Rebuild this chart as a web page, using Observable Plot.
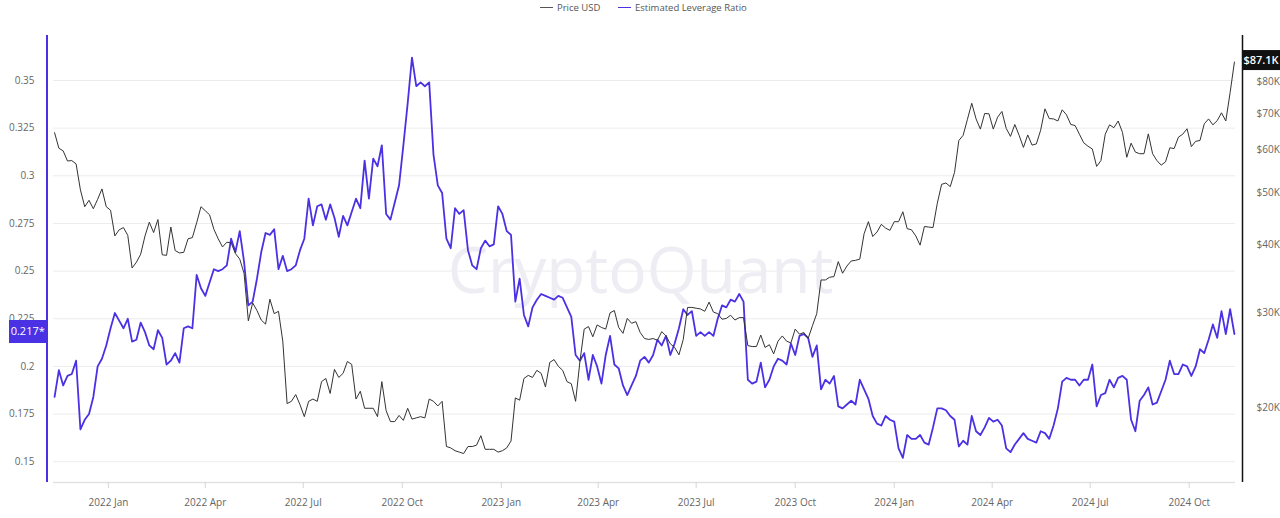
<!DOCTYPE html>
<html><head><meta charset="utf-8">
<script src="https://cdn.jsdelivr.net/npm/d3@7"></script>
<script src="https://cdn.jsdelivr.net/npm/@observablehq/plot@0.6"></script>
<style>
html,body{margin:0;padding:0;background:#fff;width:1280px;height:518px;overflow:hidden;font-family:"Open Sans",sans-serif}
#legend{position:relative;height:20px}
.item{position:absolute;top:0;height:15px;display:flex;align-items:center;font-size:9.5px;color:#555;white-space:nowrap}
.sw{display:inline-block;width:13px;height:1.6px;margin-right:4px}
</style></head><body>
<div id="legend"></div>
<div id="chart"></div>
<script>
// ---- data ----
const seriesNames = ["Price USD", "Estimated Leverage Ratio"];
const seriesColors = ["#333333", "#4a31e4"];
const sampleStart = "2021-11-12";   // one sample every 4 days
const sampleStepDays = 4;
const priceUSD = [
64500,60400,59700,57200,57300,56500,50600,47100,48400,46700,48600,50800,47100,
46400,41600,42700,43100,41700,36300,37200,38500,41600,44100,42200,44600,38400,38300,43200,39100,38700,
38800,41100,41300,44000,47100,46300,45500,42800,41100,39700,40500,40400,38600,37700,35500,29000,
31300,30300,29100,28600,31800,29900,30200,26600,20400,20600,21200,20300,19300,20600,20800,20600,
22400,22700,21300,23600,22800,23200,24400,24100,20800,21500,20000,20000,20000,19300,22400,19800,
18900,18900,19400,19000,20000,19100,19200,19300,19200,20800,20600,20200,20600,17000,16900,16700,
16600,16500,17000,17000,17100,17800,16800,16800,16800,16600,16700,16900,17400,20900,20700,22700,
23000,22800,23500,23200,21900,24300,24600,23900,23500,22400,22200,20600,24400,28000,28300,27100,
28500,28200,28000,30000,30300,28200,27500,29300,28700,28900,27600,26900,26800,26900,26700,27700,
27200,26300,25900,25100,26800,30700,30700,30600,30500,30200,31400,30100,29900,29200,29300,29700,
29100,29400,29400,26100,26000,26000,27300,25900,26200,25200,26600,27200,26600,26400,28000,27400,
27600,26900,28400,29900,34500,34500,34900,35000,37300,35500,36600,37400,37500,37700,42000,44200,
41500,42300,43700,43000,42600,44200,44200,46100,42900,42700,41600,40000,43300,43200,43100,47800,
51800,52100,51300,54500,62400,63800,68300,73100,68400,65500,70000,69900,65500,68900,70600,65700,
63500,66800,63800,60600,63900,61200,61500,65200,71400,68500,68400,67800,71100,69600,66800,66500,
64100,61800,60900,60200,55900,57300,64100,66700,65900,67800,64600,58100,61700,59400,59000,59000,
64200,59000,57300,56200,57000,60500,60300,63300,64100,65600,60800,62200,62400,67000,68400,66700,
67900,70200,67800,76500,87100];
const leverageRatio = [
0.184,0.198,0.190,0.195,0.196,0.203,0.167,0.172,0.175,0.184,
0.200,0.204,0.211,0.220,0.228,0.224,0.220,0.225,0.213,0.214,
0.223,0.218,0.211,0.209,0.219,0.215,0.201,0.203,0.207,0.202,
0.220,0.221,0.220,0.248,0.241,0.237,0.244,0.251,0.250,0.251,
0.253,0.267,0.260,0.271,0.255,0.232,0.234,0.246,0.260,0.270,
0.269,0.272,0.251,0.258,0.250,0.251,0.253,0.261,0.267,0.288,
0.274,0.284,0.285,0.277,0.285,0.278,0.268,0.279,0.274,0.281,
0.288,0.283,0.308,0.288,0.309,0.305,0.316,0.280,0.277,0.286,
0.295,0.316,0.338,0.362,0.347,0.349,0.347,0.349,0.311,0.295,
0.291,0.267,0.262,0.283,0.280,0.282,0.261,0.253,0.251,0.262,
0.266,0.263,0.264,0.284,0.280,0.271,0.269,0.234,0.246,0.227,
0.221,0.231,0.235,0.238,0.237,0.236,0.235,0.237,0.236,0.231,
0.226,0.206,0.203,0.207,0.193,0.206,0.200,0.191,0.206,0.216,
0.201,0.199,0.190,0.185,0.190,0.195,0.203,0.205,0.202,0.206,
0.214,0.211,0.216,0.206,0.212,0.220,0.230,0.227,0.229,0.216,
0.218,0.216,0.218,0.216,0.225,0.232,0.231,0.235,0.234,0.238,
0.234,0.193,0.191,0.192,0.202,0.189,0.193,0.200,0.204,0.203,
0.201,0.212,0.206,0.216,0.217,0.215,0.205,0.211,0.188,0.193,
0.191,0.195,0.179,0.178,0.180,0.182,0.180,0.193,0.188,0.183,
0.174,0.170,0.169,0.174,0.172,0.171,0.157,0.152,0.164,0.162,
0.162,0.164,0.160,0.159,0.168,0.178,0.178,0.177,0.174,0.172,
0.158,0.161,0.159,0.174,0.166,0.164,0.168,0.173,0.171,0.172,
0.169,0.157,0.155,0.159,0.162,0.165,0.162,0.161,0.160,0.166,
0.165,0.162,0.169,0.178,0.192,0.194,0.193,0.193,0.190,0.193,
0.193,0.201,0.179,0.185,0.186,0.193,0.189,0.194,0.195,0.193,
0.172,0.166,0.182,0.185,0.189,0.180,0.181,0.187,0.193,0.203,
0.196,0.196,0.201,0.200,0.195,0.200,0.209,0.207,0.214,0.222,
0.215,0.229,0.217,0.230,0.217];
const leverageTicks = [0.15,0.175,0.2,0.225,0.25,0.275,0.3,0.325,0.35];
const priceTicks = [20000,30000,40000,50000,60000,70000,80000];
const xTickDates = ["2022-01-01","2022-04-01","2022-07-01","2022-10-01","2023-01-01","2023-04-01",
  "2023-07-01","2023-10-01","2024-01-01","2024-04-01","2024-07-01","2024-10-01"];
const xDomain = ["2021-11-11","2024-11-13"];
const leverageDomain = [0.1391, 0.3736];
const priceDomain = [14590, 97500];   // log-scaled right axis
const watermark = "CryptoQuant";

// ---- legend ----
const legendLeft = [540, 618];
const swatchColors = ["#555555", seriesColors[1]];
const legend = d3.select("#legend");
seriesNames.forEach((n, i) => {
  const it = legend.append("div").attr("class", "item").style("left", legendLeft[i] + "px");
  it.append("span").attr("class", "sw").style("background", swatchColors[i]);
  it.append("span").text(n);
});

// ---- build table ----
const start = new Date(sampleStart);
const data = leverageRatio.map((v, i) => ({
  date: d3.utcDay.offset(start, i * sampleStepDays),
  lev: v,
  price: priceUSD[i]
}));
const lp0 = Math.log(priceDomain[0]), lp1 = Math.log(priceDomain[1]);
const v0 = leverageDomain[0], v1 = leverageDomain[1];
const p2v = p => v0 + (Math.log(p) - lp0) / (lp1 - lp0) * (v1 - v0);
const v2p = v => Math.exp(lp0 + (v - v0) / (v1 - v0) * (lp1 - lp0));
const xd = xDomain.map(d => new Date(d));
const fmtX = d3.utcFormat("%Y %b");

const chart = Plot.plot({
  width: 1280, height: 498,
  marginTop: 15, marginBottom: 36, marginLeft: 53, marginRight: 45,
  style: {fontFamily: '"Open Sans", sans-serif', fontSize: "10px", background: "transparent", overflow: "visible"},
  x: {type: "utc", domain: xd, label: null},
  y: {domain: leverageDomain, label: null},
  marks: [
    Plot.gridY(leverageTicks, {stroke: "#ececec", strokeOpacity: 1}),
    Plot.text([watermark], {frameAnchor: "middle", text: d => d, fontSize: 64, fontWeight: 500, fill: "#ededf3", dy: 14, dx: -4}),
    Plot.ruleY([v0], {stroke: "#e2e2e2", strokeWidth: 1.5}),
    Plot.axisX(xTickDates.map(d => new Date(d)), {label: null, tickSize: 6, tickPadding: 10, tickFormat: fmtX, stroke: "#d6d6d6", fill: "#666"}),
    Plot.axisY(leverageTicks, {anchor: "left", label: null, tickSize: 0, tickPadding: 19, tickFormat: d => String(+d.toFixed(3)), fill: "#666"}),
    Plot.axisY(priceTicks.map(p2v), {anchor: "right", label: null, tickSize: 0, tickPadding: 21, tickFormat: v => "$" + Math.round(v2p(v) / 1000) + "K", fill: "#666"}),
    Plot.ruleX([xd[0]], {stroke: seriesColors[1], strokeWidth: 2, dx: -6.5}),
    Plot.ruleX([xd[1]], {stroke: "#111", strokeWidth: 1.5, dx: 7}),
    Plot.line(data, {x: "date", y: "lev", stroke: seriesColors[1], strokeWidth: 1.8}),
    Plot.line(data, {x: "date", y: d => p2v(d.price), stroke: seriesColors[0], strokeWidth: 1})
  ]
});
document.getElementById("chart").appendChild(chart);

// ---- last-value labels ----
const sx = chart.scale("x"), sy = chart.scale("y");
const X = sx.apply ? (d => sx.apply(d)) : d3.scaleUtc(sx.domain, sx.range);
const Y = sy.apply ? (v => sy.apply(v)) : d3.scaleLinear(sy.domain, sy.range);
const svg = d3.select(chart);
const g = svg.append("g").attr("font-family", '"Open Sans", sans-serif');
const lastLev = leverageRatio[leverageRatio.length - 1];
const lastPrice = priceUSD[priceUSD.length - 1];
const leftAxisX = X(xd[0]) - 6.5;
const rightAxisX = X(xd[1]) + 7;
const yl = Y(lastLev) - 2;
g.append("rect").attr("x", 9).attr("y", yl - 11.5).attr("width", leftAxisX - 9).attr("height", 23).attr("fill", seriesColors[1]);
g.append("text").attr("x", (9 + leftAxisX) / 2).attr("y", yl).attr("dy", "0.35em").attr("text-anchor", "middle")
  .attr("fill", "#fff").attr("font-size", 11).text(lastLev.toFixed(3) + "*");
const yp = Y(p2v(lastPrice)) - 1.5;
g.append("rect").attr("x", rightAxisX).attr("y", yp - 10).attr("width", 1280 - rightAxisX).attr("height", 20).attr("fill", "#111");
g.append("text").attr("x", (rightAxisX + 1280) / 2).attr("y", yp).attr("dy", "0.35em").attr("text-anchor", "middle")
  .attr("fill", "#fff").attr("font-size", 11).attr("font-weight", 600).text("$" + (lastPrice / 1000).toFixed(1) + "K");
</script>
</body></html>
